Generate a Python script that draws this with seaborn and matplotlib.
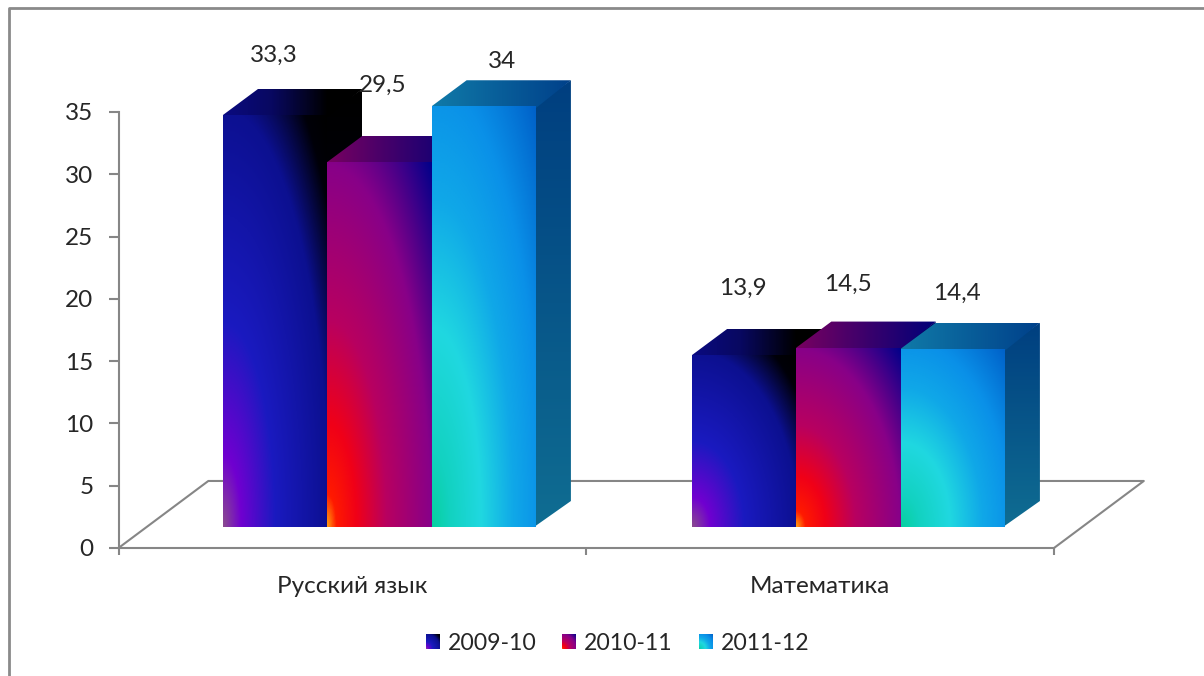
# 3d looking bar chart, seaborn draws the front faces and the rest is built on top of them
import numpy as np
import pandas as pd
import matplotlib
matplotlib.use('Agg')
import matplotlib.pyplot as plt
import seaborn as sns
from matplotlib.colors import LinearSegmentedColormap
from matplotlib.lines import Line2D
from matplotlib.patches import Polygon, Rectangle

# chart values
subjects = ['Русский язык', 'Математика']
years = ['2009-10', '2010-11', '2011-12']
values_2009 = [33.3, 13.9]
values_2010 = [29.5, 14.5]
values_2011 = [34, 14.4]
value_labels = ['33,3', '13,9', '29,5', '14,5', '34', '14,4']
y_ticks = [0, 5, 10, 15, 20, 25, 30, 35]

# label shift from the top centre of each front face, in pixels
label_shift = [(-1, 60), (-1, 67), (3, 77), (-1, 63), (18, 45), (4, 55)]

W, H = 1204, 676
GREY = '#868686'
TEXT = '#262626'

# colour stops for front faces, radial from the bottom left corner
front_stops = {
    '2009-10': [(0, '#8a4a90'), (.12, '#7000d0'), (.35, '#1a1ac0'), (.72, '#0c1090'), (.9, '#000008'), (1, '#000000')],
    '2010-11': [(0, '#ff9a10'), (.06, '#ff1a00'), (.2, '#f00018'), (.4, '#b80060'), (.7, '#880088'), (1, '#00008a')],
    '2011-12': [(0, '#08d0a0'), (.12, '#12d2c0'), (.33, '#20d8e0'), (.55, '#10a8e8'), (.75, '#0a90e8'), (1, '#0060c8')],
}
top_colors = {
    '2009-10': [(0, '#0a0a80'), (.35, '#080860'), (.75, '#000000'), (1, '#000000')],
    '2010-11': [(0, '#780060'), (1, '#000078')],
    '2011-12': [(0, '#107aa8'), (1, '#00408a')],
}
side_colors = {
    '2009-10': [(0, '#000000'), (1, '#000020')],
    '2010-11': [(0, '#000060'), (1, '#600040')],
    '2011-12': [(0, '#003f80'), (1, '#0f6d92')],
}


def px_axes(left, top, right, bottom):
    # axes placed by reference pixels
    return fig.add_axes([left / W, 1 - bottom / H, (right - left) / W, (bottom - top) / H])


def radial_image():
    yy, xx = np.mgrid[1:0:200j, 0:1:200j]
    return np.sqrt(xx ** 2 + yy ** 2) / np.sqrt(2)


def gradient_face(ax, data, cmap, extent, clip, zorder):
    im = ax.imshow(data, cmap=cmap, vmin=0, vmax=1, extent=extent, aspect='auto',
                   interpolation='bilinear', zorder=zorder)
    clip_patch = Polygon(clip, closed=True, transform=ax.transData, fc='none', ec='none')
    im.set_clip_path(clip_patch)


sns.set_style('white')
plt.rcParams['font.family'] = ['Lato', 'Noto Sans', 'DejaVu Sans']

df = pd.DataFrame({
    'subject': subjects * 3,
    'year': np.repeat(years, 2),
    'value': values_2009 + values_2010 + values_2011,
})

fig = plt.figure(figsize=(W / 100, H / 100), dpi=100, facecolor='white')

# outer frame of the picture, only left and top are inside the crop
fig.add_artist(Line2D([9 / W, 9 / W, 1], [0, 1 - 8 / H, 1 - 8 / H], transform=fig.transFigure,
                      color='#8a8a8a', lw=2))

# axis frame with the floor
frame = px_axes(118.5, 112, 1054, 548)
frame.set_xlim(0, 2)
frame.set_ylim(0, 35)
frame.patch.set_alpha(0)
for side in ['top', 'right']:
    frame.spines[side].set_visible(False)
for side in ['left', 'bottom']:
    frame.spines[side].set_color(GREY)
    frame.spines[side].set_linewidth(1.5)
frame.set_yticks(y_ticks)
frame.set_xticks([0, 1, 2])
frame.set_xticklabels([])
frame.set_xticks([0.5, 1.5], labels=subjects, minor=True)
frame.tick_params(axis='y', which='major', left=True, length=7, width=1.5, color=GREY,
                  labelsize=17.5, labelcolor=TEXT, pad=11)
frame.tick_params(axis='x', which='major', bottom=True, length=5, width=1.5, color=GREY)
frame.tick_params(axis='x', which='minor', bottom=False, labelsize=17.5, labelcolor=TEXT, pad=18)
floor_dx, floor_dy = 0.192, 5.38
frame.plot([0, floor_dx, 2 + floor_dx, 2], [0, floor_dy, floor_dy, 0], color=GREY, lw=1.5, clip_on=False)

# bars
ax = px_axes(145, 32, 1083, 527)
ax.patch.set_alpha(0)
sns.barplot(data=df, x='subject', y='value', hue='year', order=subjects, hue_order=years,
            width=0.667, gap=0, dodge=True, ax=ax, legend=False, saturation=1)
ax.set_xlim(-0.5, 1.5)
ax.set_ylim(0, 40)
ax.axis('off')

depth_x, depth_y = 35 / 469, 26 / 12.38
seam_x, seam_y = 0.004, 0.15
radial = radial_image()
ramp_h = np.linspace(0, 1, 100).reshape(1, -1)
ramp_v = np.linspace(0, 1, 100).reshape(-1, 1)

for i, year in enumerate(years):
    front_cmap = LinearSegmentedColormap.from_list('f' + year, front_stops[year])
    top_cmap = LinearSegmentedColormap.from_list('t' + year, top_colors[year])
    side_cmap = LinearSegmentedColormap.from_list('s' + year, side_colors[year])
    for j, bar in enumerate(ax.containers[i]):
        x0, x1 = bar.get_x(), bar.get_x() + bar.get_width()
        h = bar.get_height()
        z = 3 + i * 3
        bar.set_visible(False)
        # side face, runs a little under the front so no seam shows
        gradient_face(ax, ramp_v, side_cmap, (x1 - seam_x, x1 + depth_x, 0, h + depth_y),
                      [(x1 - seam_x, 0), (x1 + depth_x, depth_y), (x1 + depth_x, h + depth_y), (x1 - seam_x, h)], z)
        # top face
        gradient_face(ax, ramp_h, top_cmap, (x0, x1 + depth_x, h - seam_y, h + depth_y),
                      [(x0, h - seam_y), (x0, h), (x0 + depth_x, h + depth_y), (x1 + depth_x, h + depth_y), (x1, h - seam_y)], z + 1)
        # front face
        gradient_face(ax, radial, front_cmap, (x0, x1, 0, h),
                      [(x0, 0), (x0, h), (x1, h), (x1, 0)], z + 2)
        dx, dy = label_shift[i * 2 + j]
        ax.annotate(value_labels[i * 2 + j], ((x0 + x1) / 2, h), xytext=(dx * 0.72, dy * 0.72),
                    textcoords='offset points', ha='center', va='center', fontsize=17.5,
                    color=TEXT, zorder=30, annotation_clip=False)
ax.set_xlim(-0.5, 1.5)
ax.set_ylim(0, 40)

# legend, swatches get their gradient once the layout is known
handles = [Rectangle((0, 0), 1, 1, fc='none', ec='none') for _ in years]
leg = fig.legend(handles, years, loc='center', bbox_to_anchor=(617.5 / W, 1 - 643 / H), ncol=3, frameon=False,
                 fontsize=16.6, handlelength=0.6, handleheight=0.6, handletextpad=0.35, columnspacing=1.13,
                 labelcolor=TEXT)
fig.canvas.draw()
for patch, year in zip(leg.get_patches(), years):
    box = patch.get_window_extent()
    sw = fig.add_axes([box.x0 / W, box.y0 / H, box.width / W, box.height / H])
    sw.imshow(radial, cmap=LinearSegmentedColormap.from_list('l' + year, front_stops[year]), vmin=0, vmax=1,
              aspect='auto', interpolation='bilinear')
    sw.axis('off')

fig.savefig('out.png', dpi=100)
